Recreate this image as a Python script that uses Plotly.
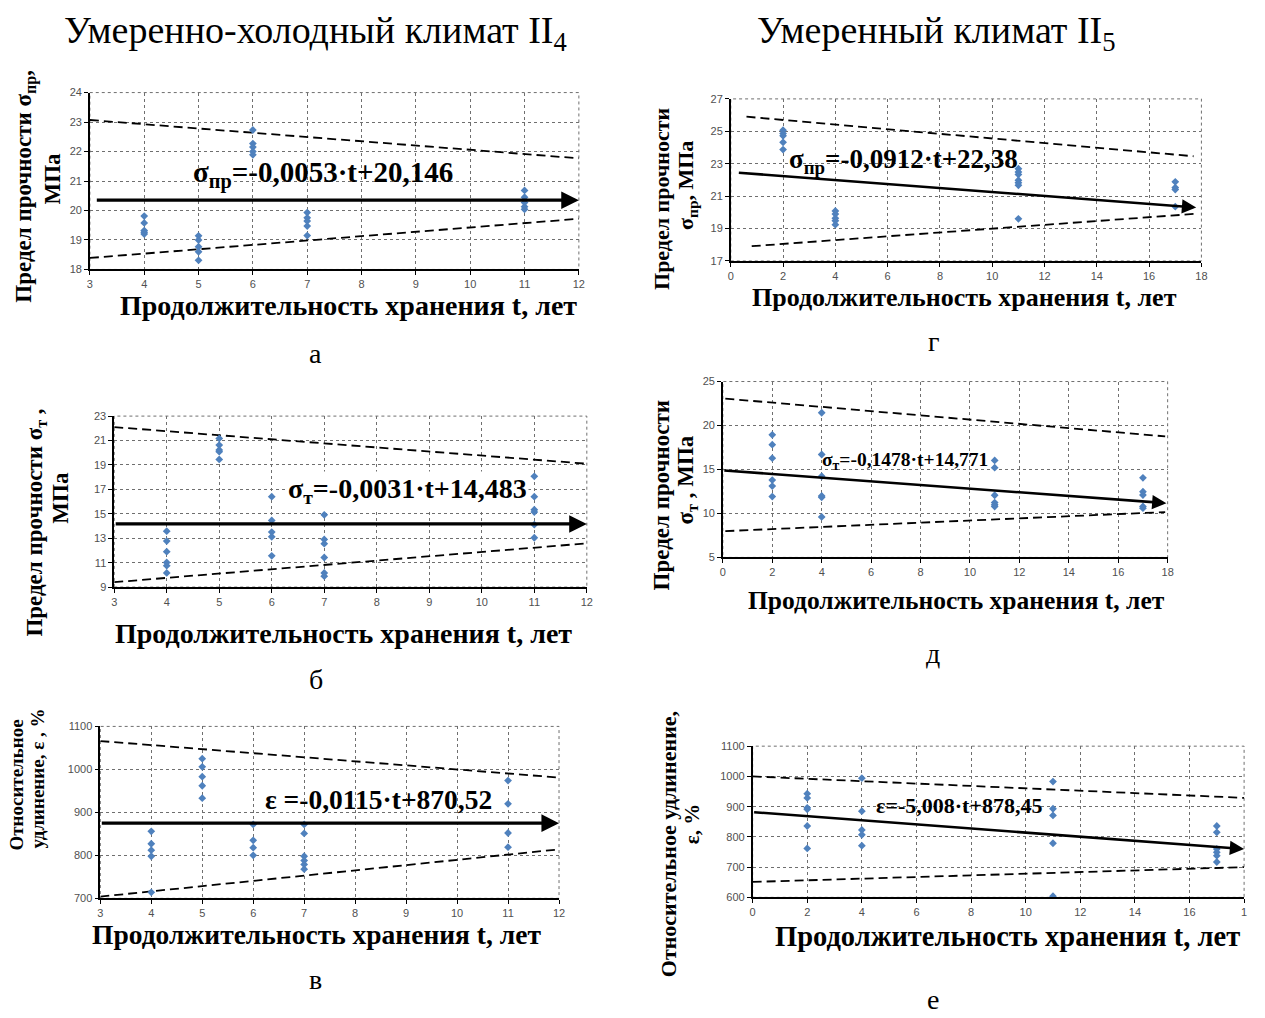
import plotly.graph_objects as go

W, H = 1265, 1018

# ---------------- data ----------------
# panel а (II4, sigma_pr)
a_t = [4, 4, 4, 4, 4, 5, 5, 5, 5, 5, 6, 6, 6, 6, 6, 7, 7, 7, 7, 7, 11, 11, 11, 11, 11]
a_v = [19.81, 19.58, 19.32, 19.26, 19.20, 19.14, 19.00, 18.77, 18.60, 18.31,
       22.73, 22.27, 22.15, 22.00, 21.89, 19.93, 19.75, 19.64, 19.47, 19.15,
       20.68, 20.45, 20.27, 20.13, 20.04]
a_trend_t, a_trend_v = [3.1, 12.0], [20.35, 20.35]
a_up_t, a_up_v = [3.0, 12.0], [23.07, 21.77]
a_lo_t, a_lo_v = [3.0, 12.0], [18.39, 19.72]

# panel г (II5, sigma_pr)
g_t = [2, 2, 2, 2, 2, 4, 4, 4, 4, 4, 11, 11, 11, 11, 11, 11, 11, 17, 17, 17, 17]
g_v = [25.07, 24.87, 24.72, 24.32, 23.87, 20.09, 19.89, 19.64, 19.48, 19.24,
       22.69, 22.49, 22.33, 21.98, 21.82, 21.67, 19.60, 21.88, 21.53, 21.41, 20.35]
g_trend_t, g_trend_v = [0.25, 17.8], [22.45, 20.30]
g_up_t, g_up_v = [0.6, 17.7], [25.90, 23.46]
g_lo_t, g_lo_v = [0.8, 17.7], [17.91, 19.90]

# panel б (II4, sigma_t)
b_t = [4, 4, 4, 4, 4, 4, 5, 5, 5, 5, 5, 6, 6, 6, 6, 6, 7, 7, 7, 7, 7, 7,
       11, 11, 11, 11, 11, 11]
b_v = [13.58, 12.77, 11.90, 11.02, 10.75, 10.16, 21.17, 20.63, 20.23, 20.09, 19.45,
       16.40, 14.46, 13.50, 13.12, 11.56, 14.92, 12.90, 12.55, 11.42, 10.16, 9.89,
       18.07, 16.40, 15.33, 15.14, 14.11, 13.04]
b_trend_t, b_trend_v = [3.0, 12.0], [14.17, 14.17]
b_up_t, b_up_v = [3.0, 12.0], [22.10, 19.10]
b_lo_t, b_lo_v = [3.0, 12.0], [9.40, 12.58]

# panel д (II5, sigma_t)
d_t = [2, 2, 2, 2, 2, 2, 4, 4, 4, 4, 4, 4, 11, 11, 11, 11, 11, 11, 17, 17, 17, 17, 17]
d_v = [18.94, 17.82, 16.29, 13.79, 13.11, 11.92, 21.45, 16.70, 14.23, 11.99, 11.84, 9.60,
       16.03, 15.20, 12.07, 11.24, 10.98, 10.79, 14.05, 12.48, 12.10, 10.79, 10.60]
d_trend_t, d_trend_v = [0.0, 17.95], [14.90, 11.17]
d_up_t, d_up_v = [0.1, 17.9], [23.06, 18.76]
d_lo_t, d_lo_v = [0.1, 17.9], [7.99, 10.16]

# panel в (II4, elongation)
v_t = [4, 4, 4, 4, 4, 5, 5, 5, 5, 5, 6, 6, 6, 6, 7, 7, 7, 7, 7, 7, 11, 11, 11, 11]
v_v = [856, 827, 812, 798, 714, 1025, 1006, 983, 962, 933, 872, 835, 818, 800,
       872, 851, 798, 788, 779, 768, 974, 920, 852, 819]
v_trend_t, v_trend_v = [3.0, 12.0], [875, 875]
v_up_t, v_up_v = [3.0, 12.0], [1066, 981]
v_lo_t, v_lo_v = [3.0, 12.0], [704, 814]

# panel е (II5, elongation)
e_t = [2, 2, 2, 2, 2, 2, 4, 4, 4, 4, 4, 11, 11, 11, 11, 11, 17, 17, 17, 17, 17, 17]
e_v = [943, 929, 896, 891, 836, 762, 994, 885, 823, 807, 771, 983, 893, 871, 779, 604,
       836, 815, 760, 749, 738, 717]
e_trend_t, e_trend_v = [0.0, 18.0], [882, 760]
e_up_t, e_up_v = [0.0, 18.0], [1000, 929]
e_lo_t, e_lo_v = [0.0, 18.0], [651, 700]

# tick labels
ticks_3_12 = [3, 4, 5, 6, 7, 8, 9, 10, 11, 12]
ticks_0_18 = [0, 2, 4, 6, 8, 10, 12, 14, 16, 18]
ticks_0_18_text_e = ["0", "2", "4", "6", "8", "10", "12", "14", "16", "1"]

# ---------------- layout helpers ----------------
SERIF = "Liberation Serif"
SANS = "Liberation Sans"
MARK = "#4F81BD"

def px_x(p):
    return p / W

def px_y(p):
    return 1 - p / H

panels = [
    dict(t=a_t, v=a_v, tr=(a_trend_t, a_trend_v), up=(a_up_t, a_up_v), lo=(a_lo_t, a_lo_v),
         box=(87.5, 580, 87.6, 266.6), xr=[3, 12], yr=[18, 24], xt=ticks_3_12, xtt=None, dy=1,
         eq="σ<sub>пр</sub>=-0,0053·t+20,146", eqpos=(7.29, 21.22), eqsize=29, aw=3.2, bg=False),
    dict(t=g_t, v=g_v, tr=(g_trend_t, g_trend_v), up=(g_up_t, g_up_v), lo=(g_lo_t, g_lo_v),
         box=(733, 1207, 94, 258), xr=[0, 18], yr=[17, 27], xt=ticks_0_18, xtt=None, dy=2,
         eq="σ<sub>пр</sub>=-0,0912·t+22,38", eqpos=(6.6, 23.14), eqsize=27, aw=2.6, bg=False),
    dict(t=b_t, v=b_v, tr=(b_trend_t, b_trend_v), up=(b_up_t, b_up_v), lo=(b_lo_t, b_lo_v),
         box=(112, 588, 415, 588), xr=[3, 12], yr=[9, 23], xt=ticks_3_12, xtt=None, dy=2,
         eq="σ<sub>т</sub>=-0,0031·t+14,483", eqpos=(8.58, 16.94), eqsize=28, aw=3.2, bg=True),
    dict(t=d_t, v=d_v, tr=(d_trend_t, d_trend_v), up=(d_up_t, d_up_v), lo=(d_lo_t, d_lo_v),
         box=(725, 1173, 380, 558), xr=[0, 18], yr=[5, 25], xt=ticks_0_18, xtt=None, dy=5,
         eq="σ<sub>т</sub>=-0,1478·t+14,771", eqpos=(7.36, 15.95), eqsize=19.5, aw=2.6, bg=False),
    dict(t=v_t, v=v_v, tr=(v_trend_t, v_trend_v), up=(v_up_t, v_up_v), lo=(v_lo_t, v_lo_v),
         box=(98, 560, 729, 903), xr=[3, 12], yr=[700, 1100], xt=ticks_3_12, xtt=None, dy=100,
         eq="ε =-0,0115·t+870,52", eqpos=(8.46, 931), eqsize=27.5, aw=3.2, bg=False),
    dict(t=e_t, v=e_v, tr=(e_trend_t, e_trend_v), up=(e_up_t, e_up_v), lo=(e_lo_t, e_lo_v),
         box=(755, 1250, 749, 902), xr=[0, 18], yr=[600, 1100], xt=ticks_0_18,
         xtt=ticks_0_18_text_e, dy=100,
         eq="ε=-5,008·t+878,45", eqpos=(7.55, 904), eqsize=22, aw=2.6, bg=False),
]

fig = go.Figure()
layout = dict(
    width=W, height=H, margin=dict(l=0, r=0, t=0, b=0),
    paper_bgcolor="white", plot_bgcolor="white", showlegend=False,
)
annotations = []

for i, p in enumerate(panels, start=1):
    xa = "x" if i == 1 else f"x{i}"
    ya = "y" if i == 1 else f"y{i}"
    xkey = "xaxis" if i == 1 else f"xaxis{i}"
    ykey = "yaxis" if i == 1 else f"yaxis{i}"
    l, r, t, b = p["box"]
    layout[xkey] = dict(
        domain=[px_x(l), px_x(r)], range=p["xr"], anchor=ya,
        tickmode="array", tickvals=p["xt"],
        ticktext=p["xtt"] if p["xtt"] else [str(v) for v in p["xt"]],
        showgrid=True, gridcolor="#6f6f6f", griddash="dot", gridwidth=1,
        showline=True, linecolor="black", linewidth=1.5,
        ticks="outside", ticklen=4, tickcolor="black",
        tickfont=dict(family=SANS, size=11, color="#505050"),
        zeroline=False, fixedrange=True,
    )
    layout[ykey] = dict(
        domain=[px_y(b), px_y(t)], range=p["yr"], anchor=xa,
        dtick=p["dy"], tick0=p["yr"][0],
        showgrid=True, gridcolor="#6f6f6f", griddash="dot", gridwidth=1,
        showline=True, linecolor="black", linewidth=1.5,
        ticks="outside", ticklen=4, tickcolor="black",
        tickfont=dict(family=SANS, size=11, color="#505050"),
        zeroline=False, fixedrange=True,
    )
    fig.add_shape(type="rect", xref=f"{xa} domain", yref=f"{ya} domain",
                  x0=0, x1=1, y0=0, y1=1,
                  line=dict(color="#6f6f6f", width=1, dash="dot"), layer="below")
    for tt, vv in (p["up"], p["lo"]):
        fig.add_trace(go.Scatter(x=tt, y=vv, mode="lines", xaxis=xa, yaxis=ya,
                                 line=dict(color="black", width=1.8, dash="9px,5px")))
    fig.add_trace(go.Scatter(x=p["t"], y=p["v"], mode="markers", xaxis=xa, yaxis=ya,
                             marker=dict(symbol="diamond", size=6, color=MARK)))
    tt, vv = p["tr"]
    annotations.append(dict(
        x=tt[1], y=vv[1], ax=tt[0], ay=vv[0], xref=xa, yref=ya, axref=xa, ayref=ya,
        text="", showarrow=True, arrowhead=2, arrowsize=1.1, arrowwidth=p["aw"],
        arrowcolor="black"))
    annotations.append(dict(
        x=p["eqpos"][0], y=p["eqpos"][1], xref=xa, yref=ya, text="<b>" + p["eq"] + "</b>",
        showarrow=False, xanchor="center", yanchor="middle",
        font=dict(family=SERIF, size=p["eqsize"], color="black"),
        bgcolor="white" if p["bg"] else None))

def ptext(cx, cy, text, size, angle=0):
    annotations.append(dict(x=px_x(cx), y=px_y(cy), xref="paper", yref="paper",
                            showarrow=False, text=text, textangle=angle,
                            xanchor="center", yanchor="middle",
                            font=dict(family=SERIF, size=size, color="black")))

# titles
ptext(315, 27, "Умеренно-холодный климат II<sub>4</sub>", 38)
ptext(940, 27, "Умеренный климат II<sub>5</sub>", 38)

# x-axis titles
xt_text = "<b>Продолжительность хранения t, лет</b>"
for cx, cy, fs in [(348, 303, 28), (968, 295, 26), (343, 635, 28),
                   (960, 602, 25.5), (316, 940, 27.5), (1012, 942, 28.5)]:
    ptext(cx, cy, xt_text, fs)

# panel letters
for cx, cy, s in [(315, 352, "а"), (937, 340, "г"), (315, 682, "б"),
                  (937, 655, "д"), (315, 985, "в"), (937, 1005, "е")]:
    ptext(cx, cy, s, 28)

# y-axis titles (each line separately, rotated)
for cx, cy, s, fs in [
    (23, 182, "<b>Предел прочности σ<sub>пр</sub>,</b>", 23),
    (50, 175, "<b>МПа</b>", 23),
    (663, 195, "<b>Предел прочности</b>", 22),
    (689, 182, "<b>σ<sub>пр</sub>, МПа</b>", 22),
    (33, 523, "<b>Предел прочности σ<sub>т</sub> ,</b>", 23),
    (58, 498, "<b>МПа</b>", 23),
    (663, 495, "<b>Предел прочности</b>", 23),
    (689, 480, "<b>σ<sub>т</sub> , МПа</b>", 23),
    (14, 788, "<b>Относительное</b>", 19),
    (35, 782, "<b>удлинение, ε , %</b>", 19),
    (670, 848, "<b>Относительное удлинение,</b>", 22),
    (694, 828, "<b>ε, %</b>", 21),
]:
    ptext(cx, cy, s, fs, angle=-90)

layout["annotations"] = annotations
fig.update_layout(**layout)
fig.write_html("out.html")
